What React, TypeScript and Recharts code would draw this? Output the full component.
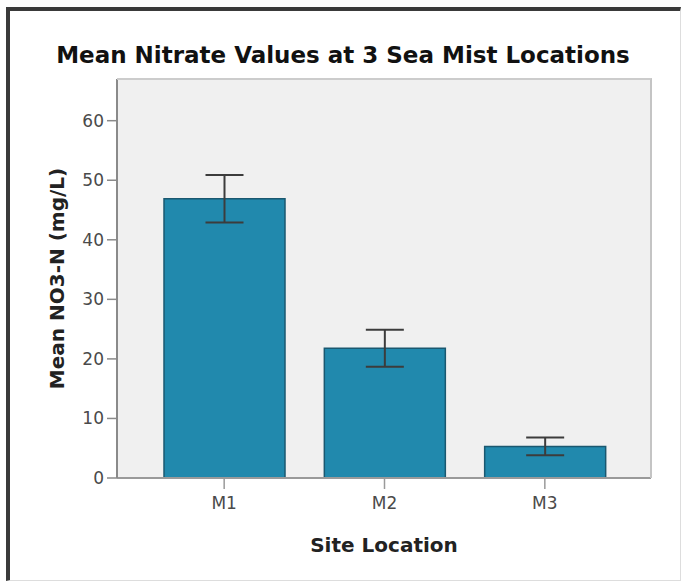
import React from 'react';
import { BarChart, Bar, XAxis, YAxis, CartesianGrid, ErrorBar, Label } from 'recharts';

const sites = ['M1', 'M2', 'M3'];
const meanNitrate = [46.9, 21.8, 5.3];
const errNitrate = [4.0, 3.1, 1.5];
const yTicks = [0, 10, 20, 30, 40, 50, 60];

const data = sites.map((s, i) => ({ site: s, mean: meanNitrate[i], err: errNitrate[i] }));

const FONT = "'DejaVu Sans', Verdana, sans-serif";

export default function App() {
  return (
    <div style={{ position: 'absolute', left: 0, top: 0, width: 681, height: 582, background: '#fff', overflow: 'hidden', fontFamily: FONT }}>
      <div
        style={{
          position: 'absolute', left: 6, top: 7, width: 675, height: 574, boxSizing: 'border-box',
          borderLeft: '4px solid #3a3a3a', borderTop: '4px solid #3a3a3a',
          borderRight: '1px solid #dddddd', borderBottom: '1px solid #dddddd',
        }}
      />
      <div
        style={{
          position: 'absolute', left: 43, top: 44, width: 600, textAlign: 'center',
          fontFamily: FONT, fontWeight: 'bold', fontSize: 23, lineHeight: '23px', color: '#111',
          whiteSpace: 'nowrap',
        }}
      >
        Mean Nitrate Values at 3 Sea Mist Locations
      </div>
      <BarChart
        width={681}
        height={582}
        data={data}
        margin={{ top: 79, right: 30, bottom: 14, left: 0 }}
        style={{ position: 'absolute', left: 0, top: 0, fontFamily: FONT }}
      >
        <CartesianGrid fill="#f0f0f0" horizontal={false} vertical={false} />
        <XAxis
          dataKey="site"
          height={90}
          padding={{ left: 27, right: 26 }}
          tickSize={11}
          tickMargin={8}
          axisLine={{ stroke: '#9a9a9a', strokeWidth: 2 }}
          tickLine={{ stroke: '#9a9a9a', strokeWidth: 1.5 }}
          tick={{ fill: '#4a4a4a', fontSize: 17, fontFamily: FONT }}
        >
          <Label value="Site Location" position="insideBottom" offset={16} fill="#222" fontSize={20} fontWeight="bold" fontFamily={FONT} />
        </XAxis>
        <YAxis
          width={117}
          domain={[0, 67]}
          ticks={yTicks}
          interval={0}
          tickSize={10}
          tickMargin={3}
          axisLine={{ stroke: '#8a8a8a', strokeWidth: 2 }}
          tickLine={{ stroke: '#8a8a8a', strokeWidth: 1.5 }}
          tick={{ fill: '#4a4a4a', fontSize: 17, fontFamily: FONT }}
        >
          <Label
            value="Mean NO3-N (mg/L)"
            angle={-90}
            position="insideLeft"
            offset={57}
            style={{ textAnchor: 'middle' }}
            fill="#222"
            fontSize={20}
            fontWeight="bold"
            fontFamily={FONT}
          />
        </YAxis>
        <Bar dataKey="mean" fill="#2189ad" stroke="#1a5870" strokeWidth={1.5} barSize={121} isAnimationActive={false}>
          <ErrorBar dataKey="err" width={19} stroke="#3c3c3c" strokeWidth={2} isAnimationActive={false} />
        </Bar>
      </BarChart>
      <div
        style={{
          position: 'absolute', left: 117, top: 78, width: 535, height: 400, boxSizing: 'border-box',
          borderTop: '2px solid #cccccc', borderRight: '2px solid #c4c4c4', pointerEvents: 'none',
        }}
      />
    </div>
  );
}
